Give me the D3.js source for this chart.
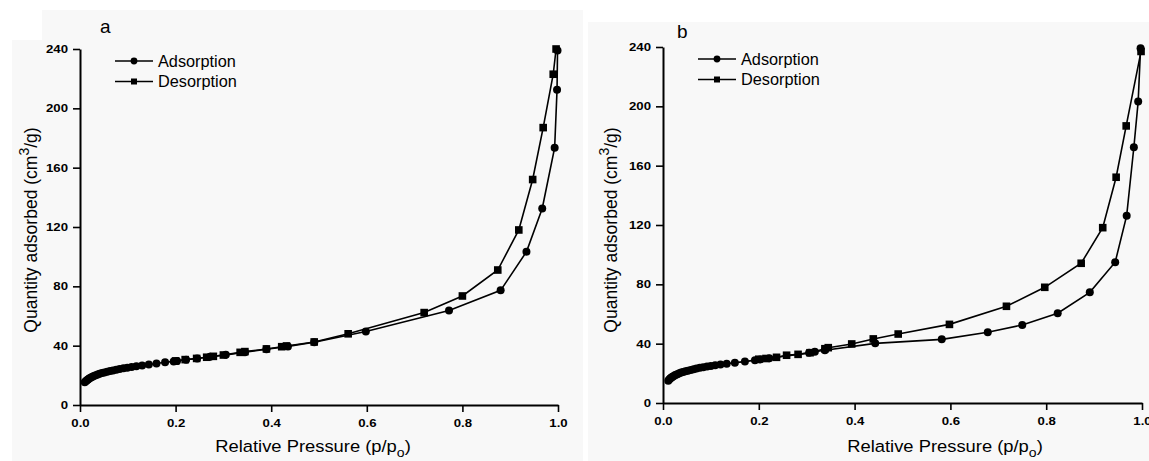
<!DOCTYPE html>
<html>
<head>
<meta charset="utf-8">
<script src="https://cdn.jsdelivr.net/npm/d3@7"></script>
<style>
    body { margin: 0; background: #fff; }
    svg { display: block; font-family: "Liberation Sans", Arial, sans-serif; }
</style>
</head>
<body>
<svg id="chart" width="1149" height="461"></svg>
<script>
let pressureTicks = [0, 0.2, 0.4, 0.6, 0.8, 1.0];
let quantityTicks = [0, 40, 80, 120, 160, 200, 240];
let seriesNames = ["Adsorption", "Desorption"];

// [p/p0, quantity cm3/g]
let adsorptionA = [[0.010, 15.3], [0.012, 16.0], [0.014, 16.6], [0.016, 17.1], [0.018, 17.6], [0.020, 18.0],
    [0.023, 18.6], [0.026, 19.1], [0.029, 19.5], [0.033, 20.1], [0.037, 20.6], [0.041, 21.0], [0.046, 21.5],
    [0.051, 21.9], [0.057, 22.4], [0.063, 22.9], [0.069, 23.3], [0.076, 23.8], [0.083, 24.2], [0.091, 24.7],
    [0.099, 25.1], [0.108, 25.6], [0.118, 26.1], [0.130, 26.7], [0.144, 27.3], [0.160, 28.0], [0.178, 28.8],
    [0.196, 29.4], [0.203, 29.7], [0.222, 30.5], [0.245, 31.4], [0.272, 32.5], [0.305, 33.8], [0.345, 35.6],
    [0.390, 37.6], [0.435, 39.5], [0.490, 42.3], [0.598, 49.6], [0.772, 63.7], [0.880, 77.3], [0.934, 103.3],
    [0.967, 132.5], [0.993, 173.5], [0.998, 212.5], [0.999, 239.0]];
let desorptionA = [[0.996, 240.0], [0.990, 223.0], [0.969, 187.0], [0.947, 152.0], [0.918, 118.0], [0.874, 91.0],
    [0.800, 73.5], [0.720, 62.3], [0.561, 48.0], [0.490, 42.5], [0.432, 39.8], [0.422, 39.3], [0.390, 37.8],
    [0.345, 36.0], [0.335, 35.5], [0.300, 33.7], [0.279, 32.8], [0.265, 32.2], [0.244, 31.4], [0.220, 30.6],
    [0.200, 29.7]];

let adsorptionB = [[0.011, 15.0], [0.013, 15.8], [0.015, 16.5], [0.017, 17.0], [0.019, 17.5], [0.021, 17.9],
    [0.024, 18.5], [0.027, 19.0], [0.030, 19.4], [0.034, 20.0], [0.038, 20.5], [0.042, 20.9], [0.047, 21.4],
    [0.052, 21.8], [0.058, 22.3], [0.064, 22.8], [0.070, 23.2], [0.077, 23.7], [0.084, 24.1], [0.092, 24.6],
    [0.100, 25.0], [0.109, 25.5], [0.120, 26.0], [0.133, 26.5], [0.150, 27.2], [0.171, 27.9], [0.192, 28.9],
    [0.203, 29.4], [0.222, 30.2], [0.305, 33.8], [0.317, 34.6], [0.338, 35.6], [0.443, 40.2], [0.582, 42.9],
    [0.678, 47.7], [0.750, 52.6], [0.824, 60.5], [0.891, 74.6], [0.944, 94.9], [0.968, 126.3], [0.983, 172.4],
    [0.992, 203.2], [0.997, 239.2]];
let desorptionB = [[0.998, 237.0], [0.967, 186.8], [0.946, 152.2], [0.918, 118.2], [0.873, 94.2], [0.797, 78.0],
    [0.717, 65.2], [0.598, 53.0], [0.491, 46.5], [0.439, 43.2], [0.394, 39.8], [0.345, 37.3], [0.338, 36.6],
    [0.307, 33.9], [0.282, 32.8], [0.258, 32.2], [0.237, 30.8], [0.215, 30.0], [0.200, 29.5]];

let panels = [
    {
        name: "a", ads: adsorptionA, des: desorptionA,
        bg: { x: 12, y: 10, w: 571, h: 451 },
        xRange: [80, 558], yRange: [405, 49],
        title: { x: 100, y: 33 }, legend: { x: 115, y: 61 },
        xLabel: { x: 313, y: 452 }, yLabel: { x: 37, y: 230 }
    },
    {
        name: "b", ads: adsorptionB, des: desorptionB,
        bg: { x: 588, y: 22, w: 561, h: 439 },
        xRange: [663, 1142], yRange: [403, 47],
        title: { x: 677, y: 38 }, legend: { x: 698, y: 59 },
        xLabel: { x: 945, y: 452 }, yLabel: { x: 617, y: 230 }
    }
];

let svg = d3.select("#chart");

let drawMarkers = function (g, data, kind, xScale, yScale, size) {
    if (kind == "circle") {
        g.selectAll(null).data(data).enter().append("circle")
            .attr("cx", d => xScale(d[0]))
            .attr("cy", d => yScale(d[1]))
            .attr("r", size)
            .attr("fill", "#000");
    } else {
        g.selectAll(null).data(data).enter().append("rect")
            .attr("x", d => xScale(d[0]) - size)
            .attr("y", d => yScale(d[1]) - size)
            .attr("width", size * 2)
            .attr("height", size * 2)
            .attr("fill", "#000");
    }
}

let drawPanel = function (p) {
    let g = svg.append("g");

    g.append("rect")
        .attr("x", p.bg.x).attr("y", p.bg.y)
        .attr("width", p.bg.w).attr("height", p.bg.h)
        .attr("fill", "#f8f8f8");

    let xScale = d3.scaleLinear().domain([0, 1]).range(p.xRange);
    let yScale = d3.scaleLinear().domain([0, 240]).range(p.yRange);

    //axes
    let xAxis = g.append("g")
        .attr("transform", `translate(0,${p.yRange[0]})`)
        .call(d3.axisBottom(xScale)
            .tickValues(pressureTicks)
            .tickFormat(d3.format(".1f"))
            .tickSize(7).tickSizeOuter(0).tickPadding(7));

    let yAxis = g.append("g")
        .attr("transform", `translate(${p.xRange[0]},0)`)
        .call(d3.axisLeft(yScale)
            .tickValues(quantityTicks)
            .tickSize(7).tickSizeOuter(0).tickPadding(3));

    [xAxis, yAxis].forEach(a => {
        a.select(".domain").attr("stroke", "#000").attr("stroke-width", 2);
        a.selectAll(".tick line").attr("stroke", "#000").attr("stroke-width", 1.6);
        a.selectAll(".tick text")
            .attr("fill", "#000")
            .attr("font-size", 11)
            .attr("font-weight", "bold")
            .attr("font-family", "'Liberation Sans', Arial, sans-serif")
            .attr("transform", "scale(1.2,1)");
    });

    //curves
    let lineGenerator = d3.line()
        .x(d => xScale(d[0]))
        .y(d => yScale(d[1]));

    let des = p.des.slice().sort((m, n) => m[0] - n[0]);
    let ads = p.ads.slice().sort((m, n) => m[0] - n[0]);

    g.append("path").datum(des)
        .attr("d", lineGenerator)
        .attr("fill", "none").attr("stroke", "#000").attr("stroke-width", 1.6);
    g.append("path").datum(ads)
        .attr("d", lineGenerator)
        .attr("fill", "none").attr("stroke", "#000").attr("stroke-width", 1.6);

    drawMarkers(g.append("g"), des, "square", xScale, yScale, 3.8);
    drawMarkers(g.append("g"), ads, "circle", xScale, yScale, 4);

    //panel letter
    g.append("text")
        .attr("x", p.title.x).attr("y", p.title.y)
        .attr("font-size", 19)
        .text(p.name);

    //legend
    let legend = g.append("g").attr("transform", `translate(${p.legend.x},${p.legend.y})`);
    seriesNames.forEach((name, i) => {
        let row = legend.append("g").attr("transform", `translate(0,${i * 20.5})`);
        row.append("line")
            .attr("x1", 0).attr("x2", 38)
            .attr("stroke", "#000").attr("stroke-width", 1.5);
        if (i == 0) {
            row.append("circle").attr("cx", 19).attr("r", 3.4).attr("fill", "#000");
        } else {
            row.append("rect").attr("x", 16).attr("y", -3).attr("width", 6).attr("height", 6).attr("fill", "#000");
        }
        row.append("text")
            .attr("x", 43).attr("y", 5.5)
            .attr("font-size", 16.3)
            .text(name);
    });

    //axis titles
    let xl = g.append("text")
        .attr("text-anchor", "middle")
        .attr("font-size", 17)
        .attr("transform", `translate(${p.xLabel.x},${p.xLabel.y}) scale(1.08,1)`);
    xl.append("tspan").text("Relative Pressure (p/p");
    xl.append("tspan").attr("font-size", 13).attr("dy", 5).text("o");
    xl.append("tspan").attr("dy", -5).text(")");

    let yl = g.append("text")
        .attr("text-anchor", "middle")
        .attr("font-size", 17.5)
        .attr("transform", `translate(${p.yLabel.x},${p.yLabel.y}) rotate(-90)`);
    yl.append("tspan").text("Quantity adsorbed (cm");
    yl.append("tspan").attr("font-size", 14).attr("dy", -8).text("3");
    yl.append("tspan").attr("dy", 8).text("/g)");
}

panels.forEach(drawPanel);

// small white patch at the top left corner of the figure
svg.append("rect").attr("x", 12).attr("y", 10).attr("width", 30).attr("height", 30).attr("fill", "#fff");
</script>
</body>
</html>
